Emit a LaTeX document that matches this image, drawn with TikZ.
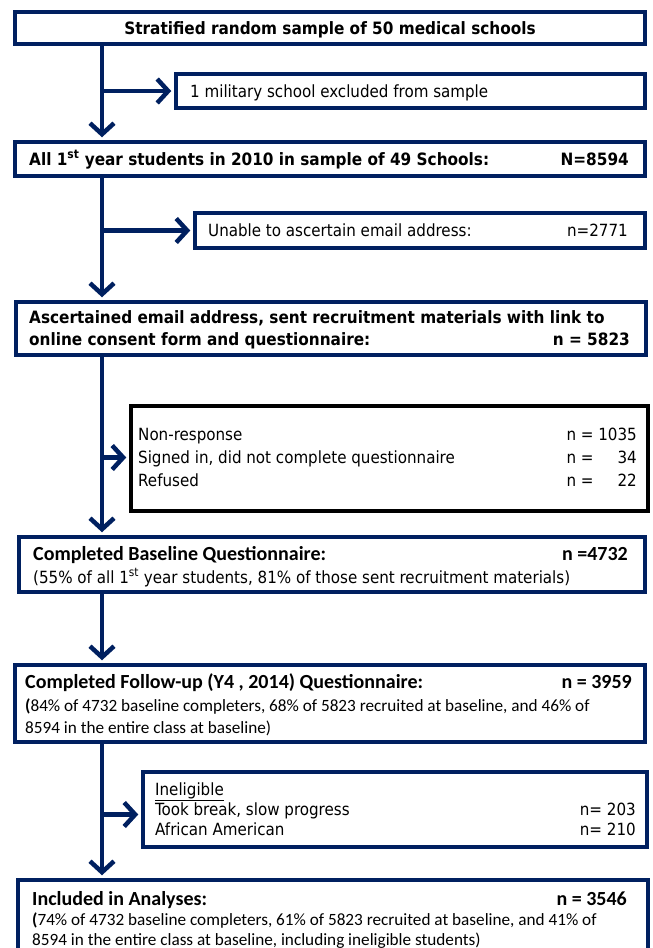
\documentclass[tikz,border=0pt]{standalone}
\usepackage{fontspec}
\setmainfont{DejaVu Sans Condensed}
\newfontfamily\calfont{Carlito}
\usetikzlibrary{arrows.meta}
\definecolor{flownavy}{RGB}{0,32,96}

\tikzset{
  box/.style={draw=flownavy,line width=3.5pt,inner sep=0pt},
  blackbox/.style={draw=black,line width=3.5pt,inner sep=0pt},
  flow/.style={draw=flownavy,line width=4.5pt,shorten >=3pt,-{Straight Barb[length=11pt,width=24pt]}},
  txt/.style={inner sep=0pt,font=\fontsize{16.8}{23}\selectfont},
  head/.style={inner sep=0pt,font=\fontsize{17}{23}\selectfont\bfseries},
  cal/.style={inner sep=0pt,font=\fontsize{17.2}{23}\selectfont\calfont},
  calhead/.style={inner sep=0pt,font=\fontsize{20}{23}\selectfont\calfont\bfseries},
}

\begin{document}
\begin{tikzpicture}[x=1pt,y=-1pt]
\useasboundingbox (0,0) rectangle (653,948);

% boxes
\node[box,minimum width=630pt,minimum height=32pt] (b1) at (330,28) {};
\node[box,minimum width=469pt,minimum height=34pt] (b2) at (410.5,91) {};
\node[box,minimum width=630pt,minimum height=34pt] (b3) at (330,159) {};
\node[box,minimum width=450pt,minimum height=35pt] (b4) at (420,230.5) {};
\node[box,minimum width=630pt,minimum height=53pt] (b5) at (331,328.5) {};
\node[blackbox,minimum width=517pt,minimum height=105pt] (b6) at (389.5,458.5) {};
\node[box,minimum width=626pt,minimum height=55pt] (b7) at (332,564.5) {};
\node[box,minimum width=630pt,minimum height=77pt] (b8) at (330,703.5) {};
\node[box,minimum width=504pt,minimum height=75pt] (b9) at (395,809.5) {};
\node[box,minimum width=630pt,minimum height=90pt] (b10) at (333,925) {};

% arrows
\coordinate (trunk) at (102,0);
\draw[flow] (b1.south -| trunk) -- (b3.north -| trunk);
\draw[flow] (b2.west -| trunk) -- (b2.west);
\draw[flow] (b3.south -| trunk) -- (b5.north -| trunk);
\draw[flow] (b4.west -| trunk) -- (b4.west);
\draw[flow] (b5.south -| trunk) -- (b7.north -| trunk);
\draw[flow] ([yshift=1pt]b6.west -| trunk) -- ([yshift=1pt]b6.west);
\draw[flow] (b7.south -| trunk) -- (b8.north -| trunk);
\draw[flow] (b8.south -| trunk) -- (b10.north -| trunk);
\draw[flow] ([yshift=-5pt]b9.west -| trunk) -- ([yshift=-5pt]b9.west);

% texts
\node[head,anchor=base] (t1) at (330,34) {Stratified random sample of 50 medical schools};
\node[txt,anchor=base west] (t2) at (190,97) {1 military school excluded from sample};
\node[head,anchor=base west] (t3) at (29,165) {All 1\textsuperscript{st} year students in 2010 in sample of 49 Schools:};
\node[head,anchor=base east] (n3) at (629,165) {N=8594};
\node[txt,anchor=base west] (t4) at (208,236) {Unable to ascertain email address:};
\node[txt,anchor=base east] (n4) at (628,236) {n=2771};
\node[head,anchor=base west] (t5a) at (29,323) {Ascertained email address, sent recruitment materials with link to};
\node[head,anchor=base west] (t5b) at (29,345) {online consent form and questionnaire:};
\node[head,anchor=base east] (n5) at (630,345) {n = 5823};

\node[txt,anchor=base west] (t6a) at (138,440) {Non-response};
\node[txt,anchor=base west] (t6b) at (138,463) {Signed in, did not complete questionnaire};
\node[txt,anchor=base west] (t6c) at (138,486) {Refused};
\node[txt,anchor=base east] (n6a) at (637,440) {n = 1035};
\node[txt,anchor=base east] (n6b) at (637,463) {n = \hphantom{10}34};
\node[txt,anchor=base east] (n6c) at (637,486) {n = \hphantom{10}22};

\node[calhead,anchor=base west] (t7a) at (33,560) {Completed Baseline Questionnaire:};
\node[calhead,anchor=base east] (n7) at (628,560) {n =4732};
\node[txt,anchor=base west] (t7b) at (33,583) {(55\% of all 1\textsuperscript{st} year students, 81\% of those sent recruitment materials)};

\node[calhead,anchor=base west] (t8a) at (25,688) {Completed Follow-up (Y4 , 2014) Questionnaire:};
\node[calhead,anchor=base east] (n8) at (632,688) {n = 3959};
\node[cal,anchor=base west] (t8b) at (25,711) {\textbf{(}84\% of 4732 baseline completers, 68\% of 5823 recruited at baseline, and 46\% of};
\node[cal,anchor=base west] (t8c) at (25,733) {8594 in the entire class at baseline)};

\node[txt,anchor=base west] (t9a) at (155,795) {\underline{Ineligible}};
\node[txt,anchor=base west] (t9b) at (155,815) {Took break, slow progress};
\node[txt,anchor=base west] (t9c) at (155,835) {African American};
\node[txt,anchor=base east] (n9b) at (636,815) {n= 203};
\node[txt,anchor=base east] (n9c) at (636,835) {n= 210};

\node[calhead,anchor=base west] (t10a) at (32,905) {Included in Analyses:};
\node[calhead,anchor=base east] (n10) at (627,905) {n = 3546};
\node[cal,anchor=base west] (t10b) at (32,925) {\textbf{(}74\% of 4732 baseline completers, 61\% of 5823 recruited at baseline, and 41\% of};
\node[cal,anchor=base west] (t10c) at (32,945) {8594 in the entire class at baseline, including ineligible students)};
\end{tikzpicture}
\end{document}
